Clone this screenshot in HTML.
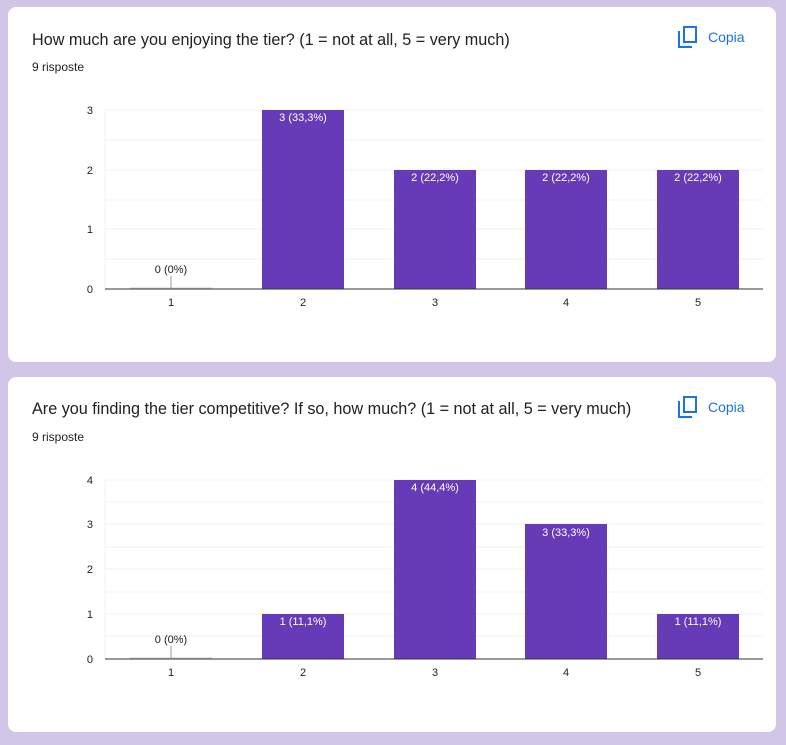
<!DOCTYPE html>
<html><head><meta charset="utf-8"><style>
body{margin:0;width:786px;height:740px;background:#d1c6e8;overflow:hidden;font-family:"Liberation Sans",Arial,sans-serif}
</style></head><body>
<svg width="786" height="740" xmlns="http://www.w3.org/2000/svg" font-family="Liberation Sans, Arial, sans-serif">
<rect x="8" y="7" width="768" height="355" rx="8" fill="#fff"/>
<rect x="8" y="377" width="768" height="355" rx="8" fill="#fff"/>
<g id="c1">
<text x="32" y="45" font-size="16.2" fill="#202124">How much are you enjoying the tier? (1 = not at all, 5 = very much)</text>
<text x="32" y="71" font-size="12" fill="#202124">9 risposte</text>
<g stroke="#1a73e8" stroke-width="2" fill="none"><rect x="684" y="27" width="12" height="15"/><path d="M679 31v16h13"/></g>
<text x="708" y="42" font-size="14" fill="#1a73e8">Copia</text>
<g stroke="#f0f0f0" stroke-width="1"><line x1="105" x2="763" y1="110" y2="110"/><line x1="105" x2="763" y1="140" y2="140"/><line x1="105" x2="763" y1="170" y2="170"/><line x1="105" x2="763" y1="200" y2="200"/><line x1="105" x2="763" y1="229" y2="229"/><line x1="105" x2="763" y1="259" y2="259"/><line x1="105" x2="105" y1="110" y2="289"/></g>
<g font-size="11" fill="#222" text-anchor="end"><text x="93" y="114">3</text><text x="93" y="174">2</text><text x="93" y="233">1</text><text x="93" y="293">0</text></g>
<g fill="#673ab7"><rect x="262" y="110" width="82" height="179"/><rect x="394" y="170" width="82" height="119"/><rect x="525" y="170" width="82" height="119"/><rect x="657" y="170" width="82" height="119"/></g>
<line x1="130" x2="212" y1="288" y2="288" stroke="#ccc"/>
<line x1="171" x2="171" y1="276" y2="288" stroke="#999"/>
<line x1="105" x2="763" y1="289" y2="289" stroke="#333"/>
<g font-size="11" text-anchor="middle"><text x="171" y="273" fill="#222">0 (0%)</text><g fill="#fff"><text x="303" y="121">3 (33,3%)</text><text x="435" y="181">2 (22,2%)</text><text x="566" y="181">2 (22,2%)</text><text x="698" y="181">2 (22,2%)</text></g>
<g fill="#222"><text x="171" y="306">1</text><text x="303" y="306">2</text><text x="435" y="306">3</text><text x="566" y="306">4</text><text x="698" y="306">5</text></g></g>
</g>
<g>
<text x="32" y="414" font-size="16.2" fill="#202124">Are you finding the tier competitive? If so, how much? (1 = not at all, 5 = very much)</text>
<text x="32" y="441" font-size="12" fill="#202124">9 risposte</text>
<g stroke="#1a73e8" stroke-width="2" fill="none"><rect x="684" y="397" width="12" height="15"/><path d="M679 401v16h13"/></g>
<text x="708" y="412" font-size="14" fill="#1a73e8">Copia</text>
<g stroke="#f0f0f0"><line x1="105" x2="763" y1="480" y2="480"/><line x1="105" x2="763" y1="502" y2="502"/><line x1="105" x2="763" y1="524" y2="524"/><line x1="105" x2="763" y1="547" y2="547"/><line x1="105" x2="763" y1="569" y2="569"/><line x1="105" x2="763" y1="592" y2="592"/><line x1="105" x2="763" y1="614" y2="614"/><line x1="105" x2="763" y1="636" y2="636"/><line x1="105" x2="105" y1="480" y2="659"/></g>
<g font-size="11" fill="#222" text-anchor="end"><text x="93" y="484">4</text><text x="93" y="528">3</text><text x="93" y="573">2</text><text x="93" y="618">1</text><text x="93" y="663">0</text></g>
<g fill="#673ab7"><rect x="262" y="614" width="82" height="45"/><rect x="394" y="480" width="82" height="179"/><rect x="525" y="524" width="82" height="135"/><rect x="657" y="614" width="82" height="45"/></g>
<line x1="130" x2="212" y1="658" y2="658" stroke="#ccc"/>
<line x1="171" x2="171" y1="646" y2="658" stroke="#999"/>
<line x1="105" x2="763" y1="659" y2="659" stroke="#333"/>
<g font-size="11" text-anchor="middle"><text x="171" y="643" fill="#222">0 (0%)</text><g fill="#fff"><text x="303" y="625">1 (11,1%)</text><text x="435" y="491">4 (44,4%)</text><text x="566" y="536">3 (33,3%)</text><text x="698" y="625">1 (11,1%)</text></g>
<g fill="#222"><text x="171" y="676">1</text><text x="303" y="676">2</text><text x="435" y="676">3</text><text x="566" y="676">4</text><text x="698" y="676">5</text></g></g>
</g>
</svg>
</body></html>
